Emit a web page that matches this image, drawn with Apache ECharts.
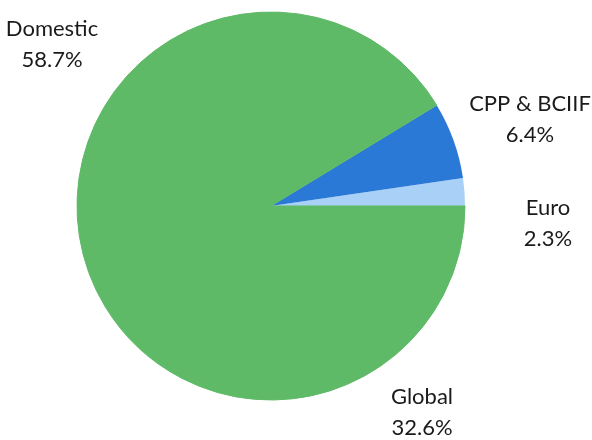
<!DOCTYPE html>
<html>
<head>
<meta charset="utf-8">
<script src="https://cdn.jsdelivr.net/npm/echarts@6/dist/echarts.min.js"></script>
<style>html,body{margin:0;padding:0;background:#fff}#c{width:592px;height:440px}</style>
</head>
<body>
<div id="c"></div>
<script>
const categories = ['Euro', 'CPP & BCIIF', 'Domestic', 'Global'];
const values = [2.3, 6.4, 58.7, 32.6];
const colors = ['#a9d0f6', '#2a79d7', '#5fba67', '#5fba67'];
const labelPos = [[548, 223], [530, 119], [52, 44], [422, 412]];

const chart = echarts.init(document.getElementById('c'), null, {renderer: 'canvas'});
chart.setOption({
  animation: false,
  backgroundColor: '#ffffff',
  series: [{
    type: 'pie',
    center: [271, 206],
    radius: 194,
    startAngle: 0,
    clockwise: false,
    data: categories.map((n, i) => ({
      name: n, value: values[i],
      itemStyle: {color: colors[i], borderColor: colors[i], borderWidth: i >= 2 ? 1 : 0}
    })),
    label: {
      show: true,
      position: 'outside',
      formatter: p => p.name + '\n' + p.value.toFixed(1) + '%',
      fontFamily: 'Lato',
      fontSize: 22,
      lineHeight: 31,
      color: '#1a1a1a',
      align: 'center',
      overflow: 'none',
      width: 200
    },
    labelLine: {show: false},
    labelLayout: function (params) {
      const p = labelPos[params.dataIndex];
      return {x: p[0], y: p[1], align: 'center', verticalAlign: 'middle'};
    }
  }]
});
</script>
</body>
</html>
